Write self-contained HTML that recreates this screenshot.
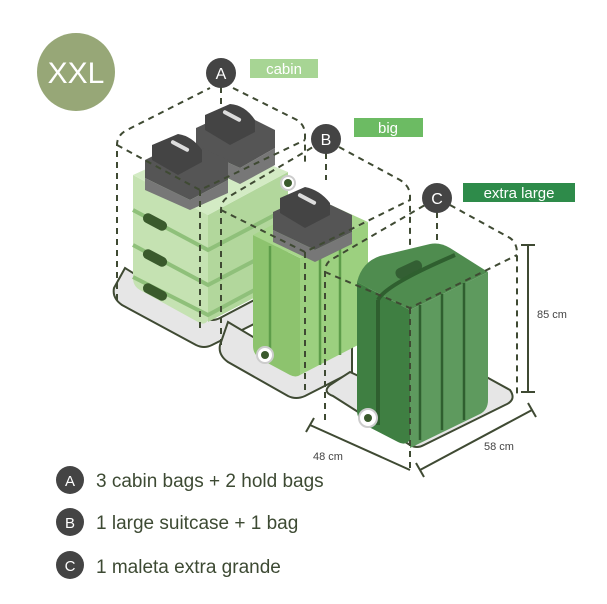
<!DOCTYPE html>
<html><head><style>
html,body{margin:0;padding:0;background:#fff;}
svg{display:block;}
text{font-family:"Liberation Sans",sans-serif;}
</style></head><body>
<svg width="607" height="604" viewBox="0 0 607 604" xmlns="http://www.w3.org/2000/svg">
<circle cx="76" cy="72" r="39" fill="#97a777"/>
<text x="76" y="83" font-size="30" fill="#fff" text-anchor="middle">XXL</text>

<g stroke="#3f4a33" stroke-width="2" fill="#e6e6e6">
<path d="M125 268 L205 318 Q212 322 220 318 L262 296 L262 320 L212 345 Q204 349 196 345 L122 305 Q112 298 114 288 Z"/>
<path d="M228 322 L305 368 L352 345 L352 372 L305 396 Q296 400 288 396 L228 362 Q218 355 220 345 Z"/>
<path d="M333 396 L410 445 Q417 449 424 445 L505 405 Q517 400 510 390 L470 368 L410 400 L350 372 L330 385 Q322 392 333 396 Z"/>
</g>

<g>
<path d="M133 175 L208 215 L208 320 Q205 326 198 322 L140 290 Q133 286 133 278 Z" fill="#c5e2b2"/>
<path d="M208 215 L288 172 L288 280 L208 322 Z" fill="#b2d79c"/>
<path d="M133 175 L210 140 L288 172 L208 215 Z" fill="#d3ebc4"/>
<g stroke="#8fc07a" stroke-width="4" fill="none">
<path d="M133 210 L208 250 L288 208"/><path d="M133 245 L208 285 L288 243"/><path d="M133 277 L208 315 L288 272"/>
</g>
<g fill="#3a5a2c">
<rect x="142" y="217" width="26" height="10" rx="5" transform="rotate(28 155 222)"/>
<rect x="142" y="253" width="26" height="10" rx="5" transform="rotate(28 155 258)"/>
<rect x="142" y="287" width="26" height="10" rx="5" transform="rotate(28 155 292)"/>
</g>
<circle cx="288" cy="183" r="7" fill="#fff" stroke="#ccc" stroke-width="2"/><circle cx="288" cy="183" r="4" fill="#3a5a2c"/>
</g>

<g>
<path d="M196 128 L235 110 L275 130 L275 148 L240 168 L196 148 Z" fill="#555"/>
<path d="M196 148 L240 168 L275 148 L275 165 L240 184 L196 163 Z" fill="#777"/>
<path d="M205 115 L230 104 Q245 105 255 120 L255 132 L230 145 L205 130 Z" fill="#444"/>
<rect x="222" y="114" width="20" height="4" rx="2" fill="#ddd" transform="rotate(28 232 116)"/>
<path d="M145 160 L185 140 L228 160 L228 180 L190 200 L145 178 Z" fill="#555"/>
<path d="M145 178 L190 200 L228 180 L228 193 L190 210 L145 190 Z" fill="#777"/>
<path d="M152 145 L178 134 Q192 136 202 150 L202 162 L178 175 L152 160 Z" fill="#444"/>
<rect x="170" y="144" width="20" height="4" rx="2" fill="#ddd" transform="rotate(28 180 146)"/>
</g>

<g>
<path d="M253 235 L300 258 L300 375 Q296 378 290 375 L262 360 Q253 355 253 346 Z" fill="#8dc36e"/>
<path d="M300 258 L368 222 L368 330 Q368 340 360 344 L300 375 Z" fill="#9cd07f"/>
<path d="M253 235 L320 200 L368 222 L300 258 Z" fill="#a8d68c"/>
<g stroke="#5e9d4a" stroke-width="2.5"><line x1="270" y1="246" x2="270" y2="360"/><line x1="320" y1="250" x2="320" y2="365"/><line x1="340" y1="240" x2="340" y2="355"/></g>
<circle cx="265" cy="355" r="8" fill="#fff" stroke="#ccc" stroke-width="2"/><circle cx="265" cy="355" r="4" fill="#3a5a2c"/>
<path d="M273 212 L310 195 L352 215 L352 232 L315 250 L273 230 Z" fill="#555"/>
<path d="M273 230 L315 250 L352 232 L352 244 L315 262 L273 242 Z" fill="#777"/>
<path d="M280 198 L305 187 Q320 190 330 203 L330 215 L305 228 L280 213 Z" fill="#444"/>
<rect x="297" y="197" width="20" height="4" rx="2" fill="#ddd" transform="rotate(28 307 199)"/>
</g>

<g>
<path d="M357 282 L410 310 L410 440 Q405 446 398 442 L365 425 Q357 420 357 410 Z" fill="#3f7f42"/>
<path d="M410 310 L488 272 L488 400 Q488 410 480 414 L410 448 Z" fill="#5e9a5e"/>
<path d="M357 282 Q362 262 380 256 L430 244 Q440 242 450 248 L488 272 L410 310 Z" fill="#4f8c4f"/>
<rect x="395" y="264" width="28" height="11" rx="5" fill="#335f33" transform="rotate(-25 409 270)"/>
<path d="M378 300 Q385 285 455 255" stroke="#2f5f2f" stroke-width="4" fill="none"/>
<line x1="378" y1="300" x2="378" y2="425" stroke="#2f5f2f" stroke-width="4"/>
<g stroke="#2f5f2f" stroke-width="2.5"><line x1="420" y1="305" x2="420" y2="440"/><line x1="442" y1="294" x2="442" y2="430"/><line x1="464" y1="283" x2="464" y2="420"/></g>
<circle cx="368" cy="418" r="9" fill="#fff" stroke="#ccc" stroke-width="2"/><circle cx="368" cy="418" r="4" fill="#3a5a2c"/>
</g>

<g stroke="#3f4a33" stroke-width="2" stroke-dasharray="6,5" fill="none">
<path d="M117 300 L117 145 Q117 135 127 130 L210 88"/>
<path d="M233 88 L297 120 Q305 125 305 135 L305 165"/>
<path d="M117 145 L200 190 L305 140"/>
<line x1="200" y1="190" x2="200" y2="330"/><line x1="221" y1="87" x2="221" y2="110"/>
<path d="M221 345 L221 210 Q221 200 230 196 L313 147"/>
<path d="M339 147 L400 180 Q410 186 410 196 L410 245"/>
<path d="M221 210 L305 252 L410 200"/>
<line x1="305" y1="252" x2="305" y2="395"/><line x1="326" y1="153" x2="326" y2="180"/>
<path d="M325 420 L325 272 Q325 262 334 258 L425 205"/>
<path d="M450 205 L510 238 Q517 243 517 253 L517 395"/>
<path d="M325 272 L410 308 L517 255"/>
<line x1="410" y1="308" x2="410" y2="470"/><line x1="437" y1="212" x2="437" y2="240"/>
</g>

<g stroke="#3f4a33" stroke-width="2" fill="none">
<line x1="528" y1="245" x2="528" y2="392"/><line x1="521" y1="245" x2="535" y2="245"/><line x1="521" y1="392" x2="535" y2="392"/>
<line x1="310" y1="425" x2="410" y2="470"/><line x1="306" y1="432" x2="314" y2="418"/>
<line x1="420" y1="470" x2="532" y2="410"/><line x1="416" y1="463" x2="424" y2="477"/><line x1="528" y1="403" x2="536" y2="417"/>
</g>
<g font-size="11" fill="#444">
<text x="537" y="318">85 cm</text>
<text x="313" y="460">48 cm</text>
<text x="484" y="450">58 cm</text>
</g>

<circle cx="221" cy="73" r="15" fill="#444"/><text x="221" y="79" font-size="16" fill="#fff" text-anchor="middle">A</text>
<rect x="250" y="59" width="68" height="19" fill="#a7d594"/><text x="284" y="74" font-size="15" fill="#fff" text-anchor="middle">cabin</text>
<circle cx="326" cy="139" r="15" fill="#444"/><text x="326" y="145" font-size="16" fill="#fff" text-anchor="middle">B</text>
<rect x="354" y="118" width="69" height="19" fill="#6cbb63"/><text x="388" y="133" font-size="15" fill="#fff" text-anchor="middle">big</text>
<circle cx="437" cy="198" r="15" fill="#444"/><text x="437" y="204" font-size="16" fill="#fff" text-anchor="middle">C</text>
<rect x="463" y="183" width="112" height="19" fill="#2e8b4a"/><text x="519" y="198" font-size="15" fill="#fff" text-anchor="middle">extra large</text>

<g font-size="19" fill="#3d4a33">
<circle cx="70" cy="480" r="14" fill="#444"/><text x="70" y="486" font-size="15" fill="#fff" text-anchor="middle">A</text>
<text x="96" y="487">3 cabin bags + 2 hold bags</text>
<circle cx="70" cy="522" r="14" fill="#444"/><text x="70" y="528" font-size="15" fill="#fff" text-anchor="middle">B</text>
<text x="96" y="529">1 large suitcase + 1 bag</text>
<circle cx="70" cy="565" r="14" fill="#444"/><text x="70" y="571" font-size="15" fill="#fff" text-anchor="middle">C</text>
<text x="96" y="573">1 maleta extra grande</text>
</g>
</svg>
</body></html>
